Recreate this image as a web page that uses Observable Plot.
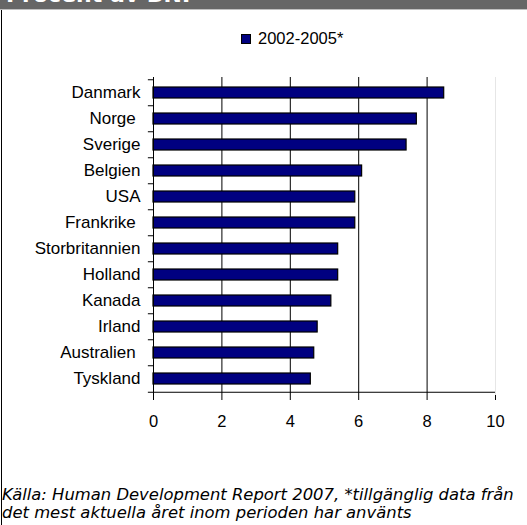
<!DOCTYPE html>
<html>
<head>
<meta charset="utf-8">
<script src="https://cdn.jsdelivr.net/npm/d3@7"></script>
<script src="https://cdn.jsdelivr.net/npm/@observablehq/plot@0.6"></script>
<style>
  html, body { margin: 0; padding: 0; background: #fff; }
  #wrap { position: relative; width: 527px; height: 525px; overflow: hidden; background: #fff; font-family: "Liberation Sans", Arial, sans-serif; }
  #header { position: absolute; left: 0; top: 0; width: 527px; height: 9px; background: #666666; border-bottom: 1px solid #c0c0c0; overflow: hidden; }
  #header span { position: absolute; left: 6px; bottom: 3px; color: #fff; font: bold 22px "DejaVu Sans", Verdana, sans-serif; line-height: 22px; white-space: nowrap; }
  #leftborder { position: absolute; left: 1px; top: 10px; width: 1px; height: 515px; background: #000; }
  #legend { position: absolute; left: 241px; top: 29px; font-size: 16.5px; color: #000; display: flex; align-items: center; white-space: nowrap; }
  #legend i { display: inline-block; width: 8px; height: 8px; background: #000080; border: 1px solid #000; margin-right: 7px; }
  #chart { position: absolute; left: 0; top: 0; }
  #caption { position: absolute; left: 2px; top: 486px; font: italic 16.4px "DejaVu Sans", Verdana, sans-serif; line-height: 18px; color: #000; white-space: nowrap; }
</style>
</head>
<body>
<div id="wrap">
  <div id="chart"></div>
  <div id="header"><span id="title"></span></div>
  <div id="leftborder"></div>
  <div id="legend"><i></i><span id="legendText"></span></div>
  <div id="caption"></div>
</div>
<script>
const title = "Procent av BNP";
const seriesName = "2002-2005*";
const countries = ["Danmark", "Norge", "Sverige", "Belgien", "USA", "Frankrike", "Storbritannien", "Holland", "Kanada", "Irland", "Australien", "Tyskland"];
const countryLabels = ["Danmark", "Norge\u00a0", "Sverige", "Belgien", "USA", "Frankrike\u00a0", "Storbritannien", "Holland", "Kanada", "Irland", "Australien\u00a0", "Tyskland"];
const values = [8.5, 7.7, 7.4, 6.1, 5.9, 5.9, 5.4, 5.4, 5.2, 4.8, 4.7, 4.6];
const xTicks = [0, 2, 4, 6, 8, 10];
const gridTicks = [2, 4, 6, 8];
const captionLines = [
  "Källa: Human Development Report 2007, *tillgänglig data från",
  "det mest aktuella året inom perioden har använts"
];

document.getElementById("title").textContent = title;
document.getElementById("legendText").textContent = seriesName;
document.getElementById("caption").innerHTML = captionLines.map(s => s.replace(/&/g, "&amp;").replace(/</g, "&lt;")).join("<br>");

const data = countries.map((c, i) => ({country: c, value: values[i]}));
const labelOf = new Map(countries.map((c, i) => [c, countryLabels[i]]));

const W = 527, H = 430, MT = 77, MB = 35, ML = 153, MR = 32;
const step = (H - MT - MB) / countries.length;

const chart = Plot.plot({
  width: W,
  height: H,
  marginTop: MT,
  marginBottom: MB,
  marginLeft: ML,
  marginRight: MR,
  style: {fontFamily: "'Liberation Sans', Arial, sans-serif", color: "#000", background: "transparent", overflow: "visible"},
  x: {domain: [0, 10], axis: null},
  y: {domain: countries, paddingInner: 0.56, paddingOuter: 0.28, axis: null},
  marks: [
    Plot.ruleX([10], {stroke: "#e6e6e6", strokeWidth: 1}),
    Plot.ruleX(gridTicks, {stroke: "#000", strokeWidth: 1}),
    Plot.barX(data, {x: "value", y: "country", fill: "#000080", stroke: "#000", strokeWidth: 1.2}),
    Plot.ruleX([0], {stroke: "#000", strokeWidth: 1}),
    Plot.ruleY(countries, {y: d => d, x1: -0.15, x2: 0, dy: -step / 2, stroke: "#000", strokeWidth: 1}),
    Plot.ruleY([countries[countries.length - 1]], {y: d => d, x1: -0.15, x2: 10, dy: step / 2, stroke: "#000", strokeWidth: 1}),
    Plot.axisX({ticks: xTicks, tickSize: 5, tickPadding: 15, fontSize: 16.5, stroke: "#000", fill: "#000", tickFormat: d => String(d), label: null}),
    Plot.axisY({tickSize: 0, tickPadding: 13, fontSize: 17, fill: "#000", tickFormat: d => labelOf.get(d), label: null})
  ]
});
document.getElementById("chart").appendChild(chart);
</script>
</body>
</html>
